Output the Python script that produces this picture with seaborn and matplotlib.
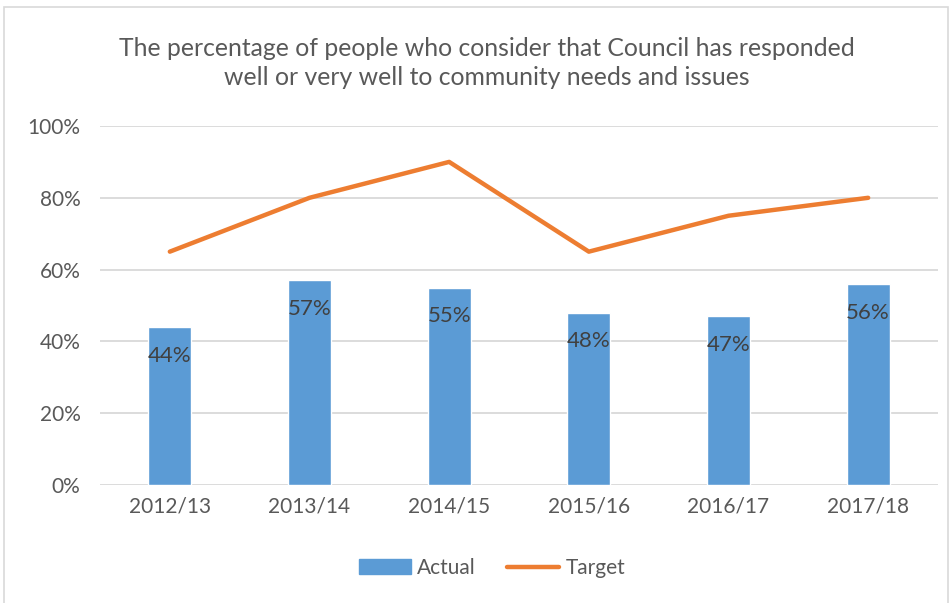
import matplotlib
matplotlib.use("Agg")
import matplotlib.pyplot as plt
import seaborn as sns
import pandas as pd
from matplotlib.patches import Rectangle, Patch
from matplotlib.lines import Line2D

years = ["2012/13", "2013/14", "2014/15", "2015/16", "2016/17", "2017/18"]
actual = [44, 57, 55, 48, 47, 56]
target = [65, 80, 90, 65, 75, 80]
yticks = [0, 20, 40, 60, 80, 100]

sns.set_theme(style="white")
plt.rcParams['font.family'] = ['Lato', 'DejaVu Sans']

TXT = "#595959"
BAR = "#5B9BD5"
LINE = "#ED7D31"
GRID = "#D9D9D9"

fig = plt.figure(figsize=(9.53, 6.03), dpi=100)
ax = fig.add_axes([100/953, 1-485/603, 838/953, 359/603])

df = pd.DataFrame({"year": years, "actual": actual, "target": target})
sns.barplot(data=df, x="year", y="actual", color=BAR, width=0.31, ax=ax,
            saturation=1, zorder=3)
sns.lineplot(data=df, x="year", y="target", color=LINE, lw=3.2, ax=ax,
             zorder=4, sort=False)

for i, v in enumerate(actual):
    ax.text(i, v - 8, f"{v}%", ha="center", va="center", fontsize=16,
            color="#404040", zorder=5)

ax.set_xlim(-0.5, 5.5)
ax.set_ylim(0, 100)
ax.set_yticks(yticks)
ax.set_yticklabels([f"{t}%" for t in yticks])
ax.grid(axis="y", color=GRID, lw=1.3, zorder=0)
ax.set_axisbelow(True)
for s in ax.spines.values():
    s.set_visible(False)
ax.set_xlabel("")
ax.set_ylabel("")
ax.tick_params(axis="both", length=0, labelsize=15, colors=TXT, pad=8)
ax.tick_params(axis="y", pad=14)
for lbl in ax.get_yticklabels():
    lbl.set_horizontalalignment("right")

fig.text(487/953, 1-63/603,
         "The percentage of people who consider that Council has responded\nwell or very well to community needs and issues",
         ha="center", va="center", fontsize=17.8, color=TXT, linespacing=1.35)

handles = [Patch(facecolor=BAR, edgecolor=BAR),
           Line2D([0], [0], color=LINE, lw=3.2)]
leg = fig.legend(handles, ["Actual", "Target"], loc="center",
                 bbox_to_anchor=(492/953, 1-568/603), ncol=2, frameon=False,
                 fontsize=15, handlelength=2.5, handletextpad=0.3,
                 columnspacing=1.5)
for t in leg.get_texts():
    t.set_color(TXT)

fig.patches.append(Rectangle((4/953, -0.01), 944/953, 1-7/603 + 0.01,
                             transform=fig.transFigure, fill=False,
                             edgecolor="#D9D9D9", lw=1.2))

fig.savefig("out.png", dpi=100)
